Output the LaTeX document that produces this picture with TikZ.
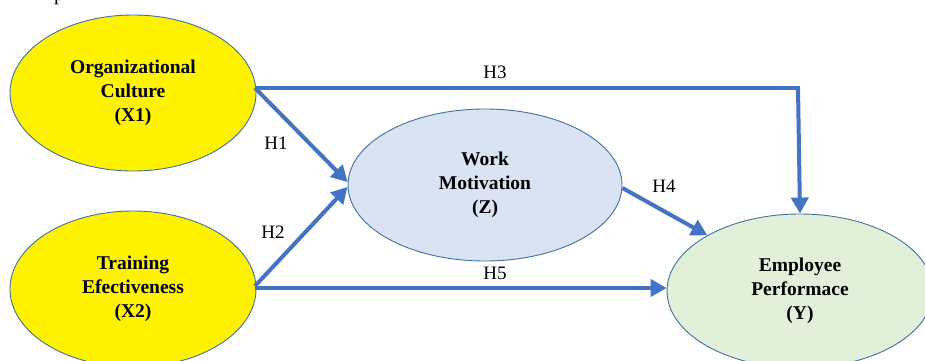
\documentclass[tikz,border=0pt]{standalone}
\usepackage{fontspec}
\setmainfont{Liberation Serif}
\usetikzlibrary{shapes.geometric,arrows.meta}
\definecolor{arrowblue}{HTML}{4472C4}
\definecolor{edgeblue}{HTML}{41719C}
\definecolor{zfill}{HTML}{DAE3F3}
\definecolor{yfill}{HTML}{E2F0D9}
\begin{document}
\begin{tikzpicture}[x=1pt,y=-1pt,
  latent/.style={ellipse, draw=edgeblue, line width=0.9pt, inner sep=0pt, align=center,
    font=\fontsize{19.5}{24.3}\selectfont\bfseries},
  path/.style={draw=arrowblue, line width=4pt, -{Triangle[length=16pt,width=17pt]}},
  hlabel/.style={font=\fontsize{19}{22}\selectfont, inner sep=0pt}]
\useasboundingbox (0,0) rectangle (925,360);
\clip (0,0) rectangle (925,360);
\node[font=\fontsize{20}{24}\selectfont, anchor=base west, inner sep=0pt] (frag) at (54,0.5) {p};
\node[latent, fill=yellow, minimum width=246pt, minimum height=156pt] (x1) at (133,93)
  {Organizational\\Culture\\(X1)};
\node[latent, fill=yellow, minimum width=246pt, minimum height=156pt] (x2) at (133,289)
  {Training\\Efectiveness\\(X2)};
\node[latent, fill=zfill, minimum width=274pt, minimum height=152pt] (z) at (485,185)
  {Work\\Motivation\\(Z)};
\node[latent, fill=yfill, minimum width=266pt, minimum height=154pt] (y) at (800,291)
  {Employee\\Performace\\(Y)};
\coordinate (x1out) at (255,88);
\coordinate (x2out) at (255,286);
\draw[path, -] (x1out) -- (x1out -| y.north) coordinate (corner);
\draw[path] ([xshift=-2pt]corner) -- (y.north);
\draw[path] (x1out) -- ([yshift=3pt]z.west);
\draw[path] (x2out) -- ([yshift=-2pt]z.west);
\draw[path] ([yshift=-3pt]z.east) -- (y.149);
\draw[path] (x2out |- 0,288) -- (x2out |- 0,288 -| y.west);
\node[hlabel] (h3) at (495,72) {H3};
\node[hlabel] (h1) at (276,143) {H1};
\node[hlabel] (h2) at (273,232) {H2};
\node[hlabel] (h4) at (664,186) {H4};
\node[hlabel] (h5) at (495,273) {H5};
\end{tikzpicture}
\end{document}
